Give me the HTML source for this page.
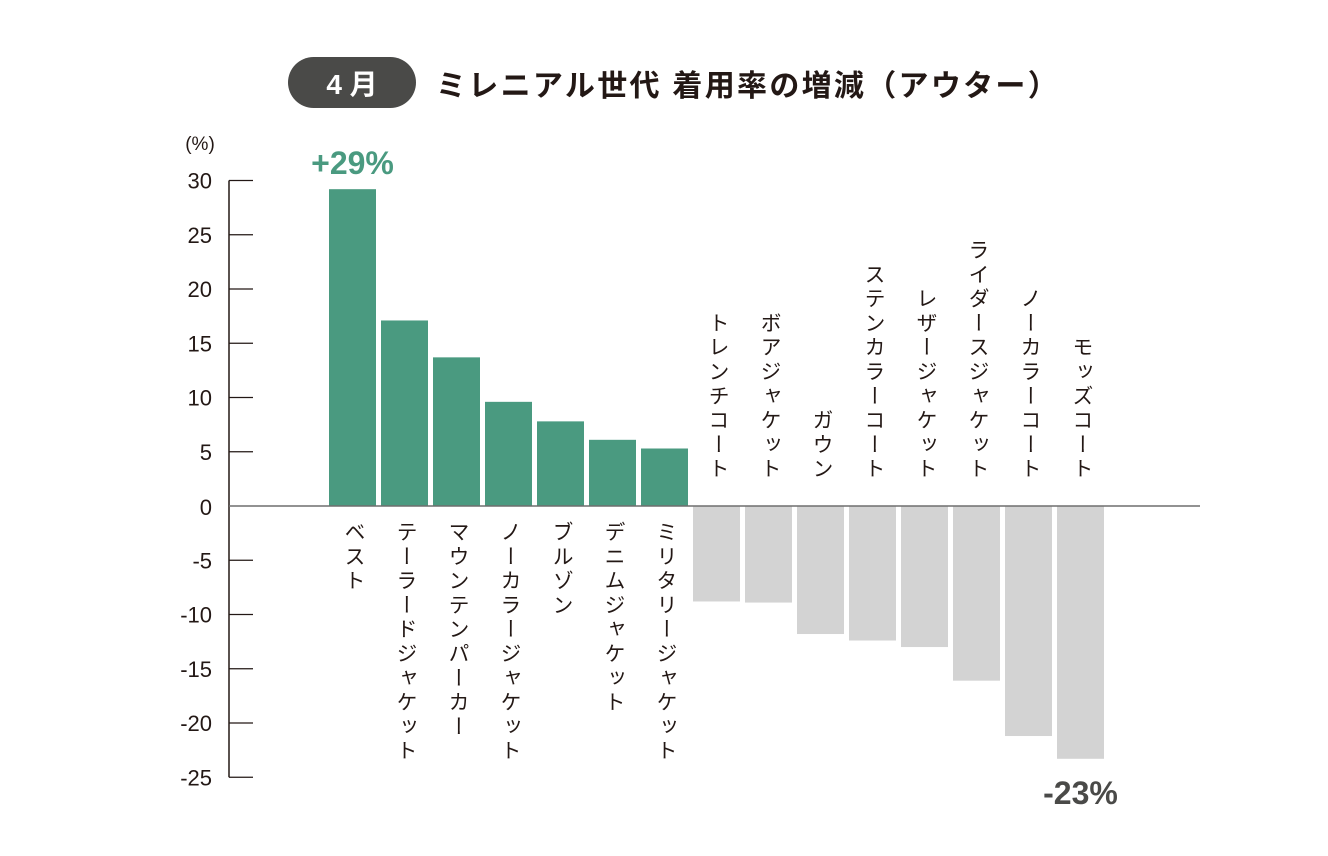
<!DOCTYPE html>
<html><head><meta charset="utf-8"><style>
body{margin:0;background:#fff;font-family:"Liberation Sans","Noto Sans CJK JP",sans-serif;}
svg text{font-family:"Liberation Sans","Noto Sans CJK JP",sans-serif;}
</style></head><body>
<svg id="c" width="1328" height="851">
<rect x="288" y="57" width="128" height="51" rx="25.5" fill="#4a4a48"/>
<text x="352" y="94" text-anchor="middle" fill="#fff" font-size="28" font-weight="bold">4 月</text>
<text x="436" y="96" fill="#231815" font-size="30" font-weight="bold" letter-spacing="2.3">ミレニアル世代 着用率の増減（アウター）</text>
<text x="200" y="150" text-anchor="middle" fill="#231815" font-size="19">(%)</text>
<g id="g"></g>
</svg>
<script>
const categories=["ベスト","テーラードジャケット","マウンテンパーカー","ノーカラージャケット","ブルゾン","デニムジャケット","ミリタリージャケット","トレンチコート","ボアジャケット","ガウン","ステンカラーコート","レザージャケット","ライダースジャケット","ノーカラーコート","モッズコート"];
const values=[29.2,17.1,13.7,9.6,7.8,6.1,5.3,-8.8,-8.9,-11.8,-12.4,-13,-16.1,-21.2,-23.3];
const ticks=[30,25,20,15,10,5,0,-5,-10,-15,-20,-25];
const annotations=["+29%","-23%"];
const NS="http://www.w3.org/2000/svg",g=document.getElementById('g');
const y=v=>506-v*10.85, x=i=>329+i*52, bw=47;
function el(t,a){const e=document.createElementNS(NS,t);for(const k in a)e.setAttribute(k,a[k]);g.appendChild(e);return e;}
let ax=el('line',{x1:229,x2:229,y1:y(30),y2:y(-25),stroke:'#231815','stroke-width':1.5});


ticks.forEach(t=>{
 if(t!==0){const l=el('line',{x1:229,x2:253,y1:y(t),y2:y(t),stroke:'#231815','stroke-width':1.2});
 
 }
 const tx=el('text',{x:212,y:y(t)+(t===0?9:8),'text-anchor':'end','font-size':22,fill:'#231815'});
 tx.textContent=t;
 
 
});
values.forEach((v,i)=>{
 const r=el('rect',{x:x(i),width:bw,y:Math.min(y(v),y(0)),height:Math.abs(y(v)-y(0)),fill:v>=0?'#4a9a80':'#d3d3d3'});
 
 
 const cx=x(i)+bw/2+1;
 const t=el('text',{x:cx,y:v>=0?y(0)+15:y(0)-24,'font-size':21,fill:'#231815','writing-mode':'vertical-rl','text-anchor':v>=0?'start':'end',style:'text-orientation:upright;letter-spacing:3.3px'});
 t.textContent=categories[i];
 
 
});
const z=el('line',{x1:229,x2:1200,y1:y(0),y2:y(0),stroke:'#6e6e6e','stroke-width':1.5});


const a1=el('text',{x:x(0)+bw/2,y:y(values[0])-15,'text-anchor':'middle','font-size':32,'font-weight':'bold',fill:'#4a9a80'});
a1.textContent=annotations[0];


const li=values.length-1;
const a2=el('text',{x:x(li)+bw/2,y:y(values[li])+45,'text-anchor':'middle','font-size':32,'font-weight':'bold',fill:'#4a4a48'});
a2.textContent=annotations[1];


</script>
</body></html>
